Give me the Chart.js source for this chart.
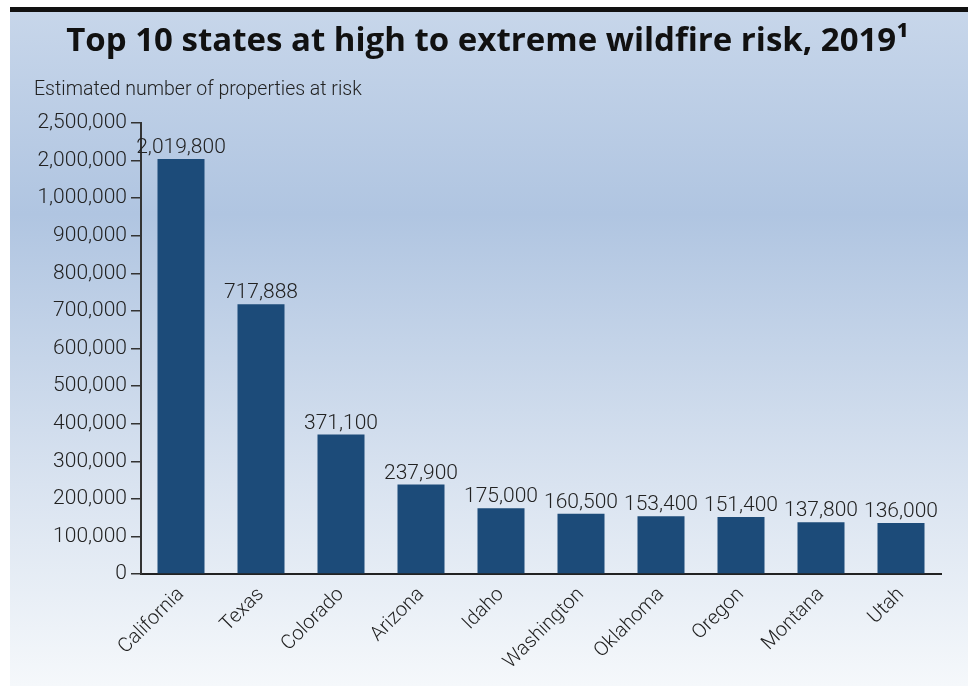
<!DOCTYPE html>
<html lang="en">
<head>
    <meta charset="UTF-8">
    <title>Top 10 states at high to extreme wildfire risk, 2019</title>
    <script src="https://cdn.jsdelivr.net/npm/chart.js@4"></script>
    <style>
        html, body { margin: 0; padding: 0; background: #fff; }
        #wrap { width: 974px; height: 686px; position: relative; }
    </style>
</head>
<body>
    <div id="wrap"><canvas id="chart"></canvas></div>
    <script>
        // data
        const states = ['California', 'Texas', 'Colorado', 'Arizona', 'Idaho',
            'Washington', 'Oklahoma', 'Oregon', 'Montana', 'Utah'];
        const properties = [2019800, 717888, 371100, 237900, 175000,
            160500, 153400, 151400, 137800, 136000];
        // broken axis: ticks are evenly spaced, values between them are linear
        const tickValues = [0, 100000, 200000, 300000, 400000, 500000, 600000,
            700000, 800000, 900000, 1000000, 2000000, 2500000];
        const tickLabels = ['0', '100,000', '200,000', '300,000', '400,000', '500,000',
            '600,000', '700,000', '800,000', '900,000', '1,000,000', '2,000,000', '2,500,000'];

        // value -> position on the evenly spaced tick axis
        function toAxis(v) {
            for (let i = 1; i < tickValues.length; i++) {
                if (v <= tickValues[i]) {
                    return i - 1 + (v - tickValues[i - 1]) / (tickValues[i] - tickValues[i - 1]);
                }
            }
            return tickValues.length - 1;
        }

        const sans = 'Roboto, sans-serif';
        const ink = '#222';

        const background = {
            id: 'background',
            beforeDraw(chart) {
                const c = chart.ctx;
                c.save();
                c.fillStyle = '#fff';
                c.fillRect(0, 0, chart.width, chart.height);
                const g = c.createLinearGradient(0, 12, 0, 686);
                g.addColorStop(0, '#c7d6ea');
                g.addColorStop(0.3, '#b0c5e1');
                g.addColorStop(0.7, '#d9e3f0');
                g.addColorStop(1, '#f5f8fb');
                c.fillStyle = g;
                c.fillRect(10, 12, 958, 674);
                c.fillStyle = '#111';
                c.fillRect(10, 7, 958, 5);
                c.restore();
            }
        };

        const valueLabels = {
            id: 'valueLabels',
            afterDatasetsDraw(chart) {
                const c = chart.ctx;
                const meta = chart.getDatasetMeta(0);
                c.save();
                c.font = '300 21px ' + sans;
                c.fillStyle = ink;
                c.textAlign = 'center';
                c.textBaseline = 'alphabetic';
                meta.data.forEach((bar, i) => {
                    c.fillText(properties[i].toLocaleString('en-US'), bar.x, bar.y - 6);
                });
                c.restore();
            }
        };

        const ctx = document.getElementById('chart').getContext('2d');
        new Chart(ctx, {
            type: 'bar',
            data: {
                labels: states,
                datasets: [{
                    data: properties.map(toAxis),
                    backgroundColor: '#1c4b79',
                    barPercentage: 0.5875,
                    categoryPercentage: 1
                }]
            },
            options: {
                responsive: true,
                maintainAspectRatio: false,
                animation: false,
                layout: { padding: { left: 34, right: 33, top: 0, bottom: 0 } },
                plugins: {
                    legend: { display: false },
                    tooltip: { enabled: false },
                    title: {
                        display: true,
                        text: 'Top 10 states at high to extreme wildfire risk, 2019¹',
                        color: '#111',
                        font: { family: '"Open Sans", sans-serif', size: 33, weight: '700' },
                        padding: { top: 22, bottom: 8 }
                    },
                    subtitle: {
                        display: true,
                        text: 'Estimated number of properties at risk',
                        align: 'start',
                        color: ink,
                        font: { family: sans, size: 19.5, weight: '300' },
                        padding: { top: 9, bottom: 21 }
                    }
                },
                scales: {
                    x: {
                        grid: { display: false, drawTicks: false },
                        border: { display: true, color: '#222', width: 2 },
                        ticks: {
                            color: ink,
                            font: { family: sans, size: 20, weight: '300' },
                            minRotation: 45,
                            maxRotation: 45,
                            padding: 9,
                            autoSkip: false
                        },
                        afterFit(scale) { scale.height = 112; }
                    },
                    y: {
                        min: 0,
                        max: tickValues.length - 1,
                        grid: { drawOnChartArea: false, tickLength: 10, color: '#333', lineWidth: 1.5 },
                        border: { display: true, color: '#333', width: 2 },
                        ticks: {
                            stepSize: 1,
                            color: ink,
                            padding: 4,
                            font: { family: sans, size: 21, weight: '300' },
                            callback: (v) => tickLabels[v]
                        },
                        afterFit(scale) { scale.width = 107; }
                    }
                }
            },
            plugins: [background, valueLabels]
        });
    </script>
</body>
</html>
